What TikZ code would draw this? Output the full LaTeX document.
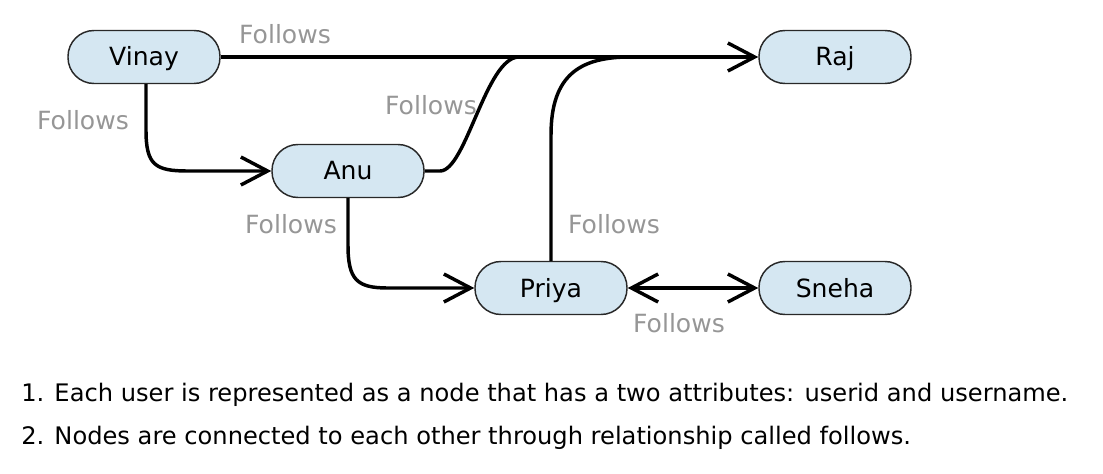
\documentclass[tikz,border=0pt]{standalone}
\usepackage{fontspec}
\setmainfont{DejaVu Sans}
\usetikzlibrary{arrows.meta}
\definecolor{boxfill}{RGB}{213,231,242}
\definecolor{boxline}{RGB}{40,40,40}
\definecolor{lblgray}{RGB}{150,150,150}
\tikzset{mybarb/.tip={Straight Barb[length=20pt,width=21pt,line width=2.6pt]}}
\begin{document}
\begin{tikzpicture}[x=0.75pt,y=-0.75pt,
  user/.style={draw=boxline,line width=1.1pt,fill=boxfill,rounded corners=19.5pt,
    minimum width=114pt,minimum height=39.75pt,inner sep=0pt,
    text height=13.5pt,text depth=0pt,
    font=\fontsize{18.8}{22}\selectfont},
  lbl/.style={text=lblgray,inner sep=0pt,font=\fontsize{18.8}{22}\selectfont},
  rel/.style={line width=2.6pt,-mybarb},
  note/.style={anchor=base west,inner sep=0pt,font=\fontsize{18.1}{20}\selectfont}]
\useasboundingbox (0,0) rectangle (1103,474);
\node[user] (vinay) at (144,57) {Vinay};
\node[user] (raj) at (835,57) {Raj};
\node[user] (anu) at (348,171) {Anu};
\node[user] (priya) at (551,288) {Priya};
\node[user] (sneha) at (835,288) {Sneha};
\coordinate (m1) at (519,57);
\coordinate (m2) at (630,57);
% edges
\draw[rel] (vinay) -- (raj);
\draw[rel] (vinay.south -| 146,0) -- (146,130) .. controls (146,165) and (155,171) .. (188,171) -- (anu);
\draw[line width=2.6pt] (anu.east) -- (440,171) .. controls (466,171) and (486,57) .. (m1);
\draw[line width=2.6pt] (priya.north) -- (551,135) .. controls (551,75) and (580,57) .. (m2);
\draw[rel] (anu.south) -- (348,245) .. controls (348,280) and (357,288) .. (388,288) -- (priya);
\draw[line width=2.6pt,mybarb-mybarb] (priya) -- (sneha);
% labels
\node[lbl] (l1) at (285,34) {Follows};
\node[lbl] (l2) at (83,120) {Follows};
\node[lbl] (l3) at (431,105) {Follows};
\node[lbl] (l4) at (291,224) {Follows};
\node[lbl] (l5) at (614,224) {Follows};
\node[lbl] (l6) at (679,323) {Follows};
% notes
\node[note] (n1) at (21,401) {1. Each user is represented as a node that has a two attributes: userid and username.};
\node[note] (n2) at (21,444) {2. Nodes are connected to each other through relationship called follows.};
\end{tikzpicture}
\end{document}
